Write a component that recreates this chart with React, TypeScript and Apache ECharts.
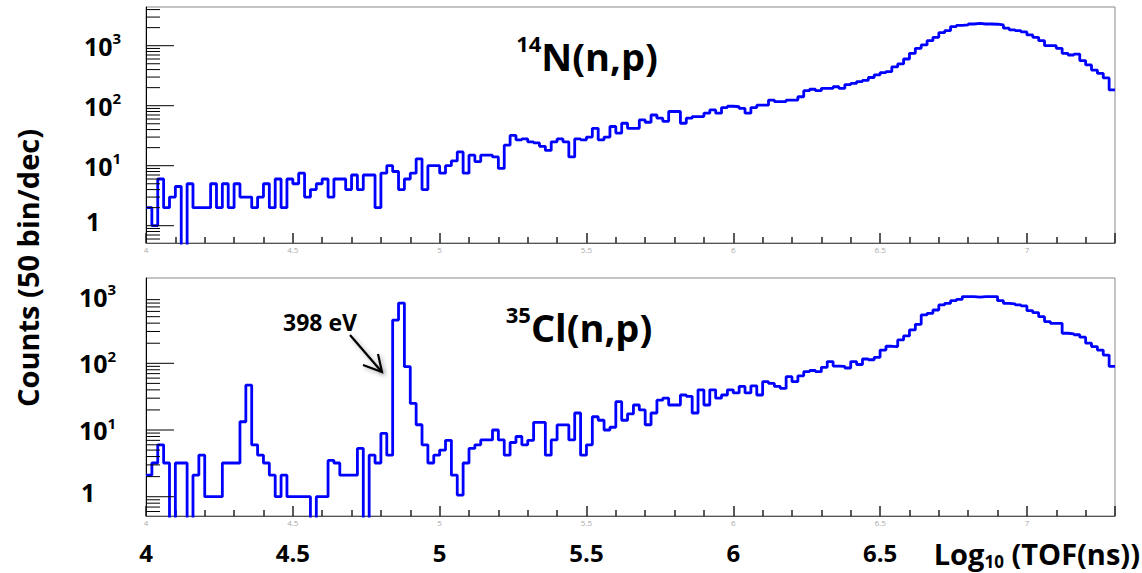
import React, { useEffect, useRef } from "react";
import * as echarts from "echarts";

// ---------- data ----------
const binStart = 4.0; // log10(TOF/ns) of first bin edge
const binWidth = 0.02; // 50 bins per decade
const xMin = 4.0;
const xMax = 7.3;

// 14N(n,p) counts per bin (50 bin/dec)
const n14Counts = [
  2, 1, 6, 2, 3, 4.5, 0, 5, 2, 2,
  2, 5, 2, 5, 2, 5, 3, 3, 2, 3,
  5, 2, 6, 2, 6, 5, 7.5, 3, 4, 5,
  6, 3, 6, 6, 4, 7, 4, 7, 7, 2,
  7.5, 10, 8, 4, 6, 7.5, 13, 4, 10, 10,
  7.5, 10, 12, 17, 7.5, 15, 11.7, 15, 15, 14,
  9, 22, 32, 27, 28, 25, 24, 21, 18, 25,
  28, 25, 14, 28, 27, 30, 42, 27, 30, 45,
  35, 51, 42, 42, 58, 53, 70, 62, 55, 80,
  80, 51, 62, 66, 66, 75, 85, 75, 93, 98,
  96, 90, 75, 93, 102, 102, 124, 117, 117, 124,
  124, 141, 178, 188, 178, 195, 195, 207, 195, 225,
  235, 252, 265, 295, 327, 355, 370, 445, 497, 600,
  746, 903, 1030, 1215, 1380, 1650, 1780, 2080, 2190, 2220,
  2300, 2350, 2300, 2300, 2280, 2220, 1960, 1830, 1780, 1700,
  1510, 1380, 1215, 1000, 1000, 903, 746, 700, 725, 565,
  478, 393, 347, 290, 183,
];

// 35Cl(n,p) counts per bin (50 bin/dec)
const cl35Counts = [
  2.1, 3.2, 6, 3.2, 0, 3.2, 3.2, 0, 2.1, 4.2,
  1, 1, 1, 3.2, 3.2, 3.2, 13.3, 47, 6, 4.2,
  3.2, 2.1, 1, 2.1, 1, 1, 1, 1, 0, 1,
  1, 3.5, 3.2, 2.1, 2.1, 2.1, 5.3, 0, 4.2, 3.2,
  8.9, 4.2, 445, 800, 89, 25, 12, 6, 3.2, 4.2,
  5, 7, 2.1, 1.06, 3.2, 5.3, 6, 7.1, 7.1, 10,
  7.1, 4.2, 6.5, 8, 6, 7, 13, 13, 4.2, 7.1,
  11.9, 11.9, 7.1, 18, 4.2, 6, 15.8, 14, 10, 11,
  26.6, 14, 17.5, 23.7, 20, 12, 18, 28, 30, 23.7,
  23.7, 33.5, 32, 18, 40, 23.7, 40, 30, 33.5, 40,
  36, 45, 36, 46, 33.5, 53, 50, 45, 42, 63,
  53, 65, 75, 78, 75, 87, 106, 91, 90, 85,
  106, 96, 116, 113, 123, 158, 180, 178, 224, 257,
  316, 384, 531, 562, 630, 750, 794, 870, 910, 1000,
  1000, 980, 1000, 1000, 1000, 870, 794, 780, 750, 725,
  616, 575, 500, 422, 398, 398, 282, 277, 268, 246,
  200, 178, 158, 133, 90,
];

const xBigTickLabels = ["4", "4.5", "5", "5.5", "6", "6.5"];
const yDecadesTop = [-1, 0, 1, 2, 3];
const yDecadesBottom = [-1, 0, 1, 2];
const yMultipliers = [1, 2, 3, 4, 5, 6, 7, 8, 9];

const topYMin = 0.515;
const topYMax = 4416;
const botYMin = 0.514;
const botYMax = 1900;

const FONT = "'Open Sans', 'DejaVu Sans', sans-serif";

// ---------- helpers ----------
function histData(counts: number[]) {
  const pts: [number, number][] = counts.map((v, i) => [
    +(binStart + binWidth * i).toFixed(4),
    v > 0 ? v : 0.1,
  ]);
  const last = counts[counts.length - 1];
  pts.push([+(binStart + binWidth * counts.length).toFixed(4), last > 0 ? last : 0.1]);
  return pts;
}

function yTickData(decades: number[], lo: number, hi: number) {
  const out: [number, number, number][] = [];
  decades.forEach((d) => {
    yMultipliers.forEach((m) => {
      const v = m * Math.pow(10, d);
      if (v >= lo && v <= hi) out.push([xMin, v, m === 1 ? 1 : 0]);
    });
  });
  return out;
}

function yLabelFormatter(v: number) {
  const l = Math.log10(v);
  const r = Math.round(l);
  if (Math.abs(l - r) > 1e-6 || r < 0) return "";
  if (r === 0) return "{one|1}";
  return `{b|10}{s|${r}}`;
}

const yRich = {
  b: { fontSize: 25, fontWeight: "bold", fontFamily: FONT, color: "#000", lineHeight: 30 },
  s: { fontSize: 15, fontWeight: "bold", fontFamily: FONT, color: "#000", verticalAlign: "top", lineHeight: 16 },
  one: { fontSize: 25, fontWeight: "bold", fontFamily: FONT, color: "#000", lineHeight: 30, padding: [0, 0, 10, 2] },
};

const yTickRenderer = (params: any, api: any) => {
  const v = api.value(1);
  const major = api.value(2) === 1;
  const p = api.coord([xMin, v]);
  const len = major ? 28 : 14;
  return {
    type: "line",
    shape: { x1: p[0], y1: p[1], x2: p[0] + len, y2: p[1] },
    style: { stroke: "#000", lineWidth: 1 },
  };
};

function tinyXAxis(gridIndex: number) {
  return {
    type: "value",
    gridIndex,
    min: xMin,
    max: xMax,
    interval: 0.5,
    axisLine: { show: true, lineStyle: { color: "#555", width: 1 } },
    axisTick: { show: true, inside: true, length: 10, lineStyle: { color: "#222", width: 1.5 } },
    minorTick: { show: true, splitNumber: 5, length: 6, lineStyle: { color: "#222", width: 1.5 } },
    splitLine: { show: false },
    axisLabel: {
      show: true,
      fontSize: 8,
      color: "#aaa",
      margin: 2,
      showMaxLabel: false,
      fontFamily: FONT,
    },
  };
}

function logYAxis(gridIndex: number, min: number, max: number, margin: number) {
  return {
    type: "log",
    logBase: 10,
    gridIndex,
    min,
    max,
    splitNumber: 4,
    axisLine: { show: true, lineStyle: { color: "#000", width: 1 } },
    axisTick: { show: false },
    splitLine: { show: false },
    axisLabel: {
      show: true,
      align: "left",
      margin,
      showMinLabel: false,
      showMaxLabel: false,
      formatter: yLabelFormatter,
      rich: yRich,
    },
  };
}

export default function App() {
  const ref = useRef<HTMLDivElement>(null);

  useEffect(() => {
    if (!ref.current) return;
    const chart = echarts.init(ref.current, null, { renderer: "svg" });

    const tickSeries = (xi: number, yi: number, data: any[]) => ({
      type: "custom",
      xAxisIndex: xi,
      yAxisIndex: yi,
      data,
      encode: { x: 0, y: 1 },
      renderItem: yTickRenderer,
      silent: true,
      clip: false,
      z: 10,
    });

    const option: any = {
      animation: false,
      backgroundColor: "#fff",
      grid: [
        { left: 146, top: 7, width: 969, height: 236, show: true, borderColor: "#888", borderWidth: 1 },
        { left: 146, top: 278, width: 969, height: 238, show: true, borderColor: "#888", borderWidth: 1 },
      ],
      xAxis: [
        tinyXAxis(0),
        tinyXAxis(1),
        {
          type: "value",
          gridIndex: 1,
          min: xMin,
          max: xMax,
          interval: 0.5,
          position: "bottom",
          axisLine: { show: false },
          axisTick: { show: false },
          splitLine: { show: false },
          axisLabel: {
            show: true,
            margin: 24,
            fontSize: 24,
            fontWeight: "bold",
            color: "#000",
            fontFamily: FONT,
            showMaxLabel: false,
            formatter: (v: number) => (xBigTickLabels.includes(String(v)) ? String(v) : ""),
          },
        },
      ],
      yAxis: [logYAxis(0, topYMin, topYMax, 62), logYAxis(1, botYMin, botYMax, 67)],
      series: [
        {
          type: "line",
          name: "14N(n,p)",
          xAxisIndex: 0,
          yAxisIndex: 0,
          data: histData(n14Counts),
          step: "end",
          symbol: "none",
          clip: true,
          silent: true,
          lineStyle: { color: "#0000ff", width: 2.8 },
        },
        {
          type: "line",
          name: "35Cl(n,p)",
          xAxisIndex: 1,
          yAxisIndex: 1,
          data: histData(cl35Counts),
          step: "end",
          symbol: "none",
          clip: true,
          silent: true,
          lineStyle: { color: "#0000ff", width: 2.8 },
        },
        tickSeries(0, 0, yTickData(yDecadesTop, topYMin, topYMax)),
        tickSeries(1, 1, yTickData(yDecadesBottom, botYMin, botYMax)),
      ],
      graphic: [
        {
          type: "text",
          x: 27,
          y: 268,
          rotation: Math.PI / 2,
          style: {
            text: "Counts (50 bin/dec)",
            fontSize: 29,
            fontWeight: "bold",
            fontFamily: FONT,
            fill: "#000",
            align: "center",
            verticalAlign: "middle",
          },
        },
        {
          type: "text",
          x: 587,
          y: 56,
          style: {
            text: "{s|14}{t|N(n,p)}",
            align: "center",
            verticalAlign: "middle",
            rich: {
              s: { fontSize: 22, fontWeight: "bold", fontFamily: FONT, fill: "#000", verticalAlign: "top", lineHeight: 24 },
              t: { fontSize: 38, fontWeight: "bold", fontFamily: FONT, fill: "#000", lineHeight: 48 },
            },
          },
        },
        {
          type: "text",
          x: 579,
          y: 327,
          style: {
            text: "{s|35}{t|Cl(n,p)}",
            align: "center",
            verticalAlign: "middle",
            rich: {
              s: { fontSize: 22, fontWeight: "bold", fontFamily: FONT, fill: "#000", verticalAlign: "top", lineHeight: 24 },
              t: { fontSize: 38, fontWeight: "bold", fontFamily: FONT, fill: "#000", lineHeight: 48 },
            },
          },
        },
        {
          type: "text",
          x: 320,
          y: 322,
          style: {
            text: "398 eV",
            fontSize: 23,
            fontWeight: "bold",
            fontFamily: FONT,
            fill: "#000",
            align: "center",
            verticalAlign: "middle",
          },
        },
        {
          type: "group",
          children: [
            {
              type: "line",
              shape: { x1: 350, y1: 335, x2: 381, y2: 371 },
              style: { stroke: "#000", lineWidth: 2.2, shadowBlur: 4, shadowColor: "rgba(0,0,0,0.35)", shadowOffsetX: 2, shadowOffsetY: 2 },
            },
            {
              type: "polyline",
              shape: { points: [[363, 365], [382, 372], [378, 354]] },
              style: { stroke: "#000", lineWidth: 2.2, fill: null, shadowBlur: 4, shadowColor: "rgba(0,0,0,0.35)", shadowOffsetX: 2, shadowOffsetY: 2 },
            },
          ],
        },
        {
          type: "text",
          x: 1140,
          y: 553,
          style: {
            text: "{a|Log}{b|10}{a| (TOF(ns))}",
            align: "right",
            verticalAlign: "middle",
            rich: {
              a: { fontSize: 29, fontWeight: "bold", fontFamily: FONT, fill: "#000", lineHeight: 34 },
              b: { fontSize: 17, fontWeight: "bold", fontFamily: FONT, fill: "#000", verticalAlign: "bottom", lineHeight: 18 },
            },
          },
        },
      ],
    };

    chart.setOption(option);
    return () => chart.dispose();
  }, []);

  return (
    <div
      ref={ref}
      style={{ position: "absolute", left: 0, top: 0, width: 1142, height: 573, background: "#fff" }}
    />
  );
}
